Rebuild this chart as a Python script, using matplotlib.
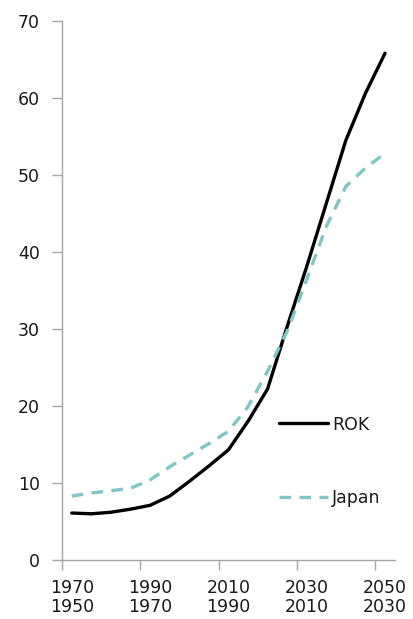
import matplotlib
matplotlib.use("Agg")
import matplotlib.pyplot as plt
import numpy as np

plt.rcParams["font.family"] = ["DejaVu Sans"]

# 5-year categories; top row = ROK years, bottom row = Japan years
rok_years = list(range(1970, 2051, 5))
japan_years = list(range(1950, 2031, 5))
rok = [6.1, 6.0, 6.2, 6.6, 7.1, 8.3, 10.2, 12.2, 14.3, 18.0, 22.2, 30.3, 38.1, 46.3, 54.5, 60.6, 65.8]
japan = [8.3, 8.7, 9.0, 9.3, 10.4, 12.1, 13.6, 15.1, 16.7, 19.9, 24.5, 29.7, 36.4, 43.3, 48.5, 50.9, 52.8]

tick_labels = ["%d\n%d" % (rok_years[i], japan_years[i]) for i in range(0, len(rok_years), 4)]

fig = plt.figure(figsize=(4.13, 6.19), dpi=100)
ax = fig.add_axes([0.150, 0.0953, 0.806, 0.871])

x = np.arange(len(rok_years))
ax.plot(x, rok, color="black", linewidth=2.4, label="ROK", solid_capstyle="round")
ax.plot(x, japan, color="#7FC6C4", linewidth=2.4, dashes=(3.5, 2.5), label="Japan")

ax.set_xlim(-0.5, len(rok_years) - 0.5)
ax.set_ylim(0, 70)
ax.set_yticks(range(0, 71, 10))

# ticks between categories, labels on categories
ax.set_xticks(np.arange(-0.5, len(rok_years), 4))
ax.set_xticklabels([])
ax.set_xticks(x[::4], minor=True)
ax.set_xticklabels(tick_labels, minor=True, linespacing=1.05)
ax.tick_params(axis="x", which="minor", length=0, pad=14, labelsize=12.5, colors="#1a1a1a")
ax.tick_params(axis="x", which="major", length=7, width=1, color="#a6a6a6")
ax.tick_params(axis="y", length=7, width=1, color="#a6a6a6", labelsize=12.5, labelcolor="#1a1a1a", pad=9)

for s in ["top", "right"]:
    ax.spines[s].set_visible(False)
for s in ["left", "bottom"]:
    ax.spines[s].set_color("#a6a6a6")
    ax.spines[s].set_linewidth(1)

leg = ax.legend(loc="upper left", bbox_to_anchor=(0.652, 0.268), frameon=False, fontsize=12.5,
                handlelength=2.8, handletextpad=0.25, labelspacing=3.2, borderpad=0, borderaxespad=0)
for t in leg.get_texts():
    t.set_color("#1a1a1a")

fig.savefig("out.png", dpi=100)
